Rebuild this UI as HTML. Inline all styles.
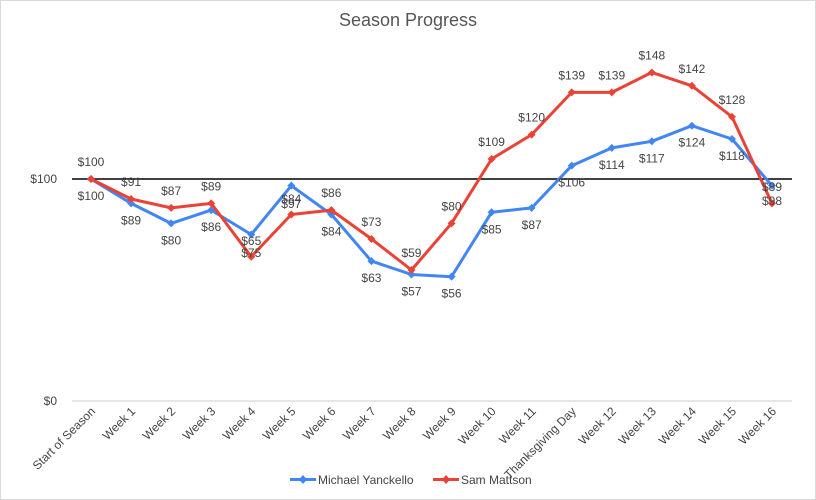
<!DOCTYPE html>
<html><head><meta charset="utf-8"><style>
body{margin:0;background:#fff}
svg{display:block;font-family:"Liberation Sans",Arial,sans-serif}
</style></head><body>
<svg width="816" height="500" viewBox="0 0 816 500">
<rect x="0.5" y="0.5" width="815" height="499" fill="#fff" stroke="#d9d9d9"/>
<text x="408" y="26" text-anchor="middle" font-size="18" fill="#555">Season Progress</text>
<line x1="72" y1="401" x2="792" y2="401" stroke="#ccc"/>
<line x1="72" y1="179" x2="792" y2="179" stroke="#000" stroke-width="1.5"/>
<text x="57" y="183" text-anchor="end" font-size="12" fill="#444">$100</text>
<text x="57" y="405" text-anchor="end" font-size="12" fill="#444">$0</text>
<g id="g"></g>
<g font-size="12" fill="#444">
<rect x="290" y="478" width="26" height="3" fill="#4285f4"/><path d="M303 475l4 4.5-4 4.5-4-4.5z" fill="#4285f4"/>
<text x="318" y="484">Michael Yanckello</text>
<rect x="433" y="478" width="26" height="3" fill="#ea4335"/><path d="M446 475l4 4.5-4 4.5-4-4.5z" fill="#ea4335"/>
<text x="461" y="484">Sam Mattson</text>
</g>
</svg>
<script>
const B=[100,89,80,86,75,97,84,63,57,56,85,87,106,114,117,124,118,97];
const R=[100,91,87,89,65,84,86,73,59,80,109,120,139,139,148,142,128,89];
const C=["Start of Season","Week 1","Week 2","Week 3","Week 4","Week 5","Week 6","Week 7","Week 8","Week 9","Week 10","Week 11","Thanksgiving Day","Week 12","Week 13","Week 14","Week 15","Week 16"];
const X=i=>91+40.06*i, Y=v=>401-2.22*v;
let s="";
function ser(d,c){let p=d.map((v,i)=>X(i).toFixed(1)+","+Y(v).toFixed(1)).join(" ");
s+=`<polyline points="${p}" fill="none" stroke="${c}" stroke-width="3" stroke-linejoin="round"/>`;
d.forEach((v,i)=>{let x=X(i),y=Y(v);s+=`<path d="M${x} ${y-4}l4 4-4 4-4-4z" fill="${c}"/>`;});}
ser(B,"#4285f4");ser(R,"#ea4335");
function lab(x,y,t){s+=`<text x="${x}" y="${y+4}" text-anchor="middle" font-size="12" fill="#444">${t}</text>`;}
const ov={4:[["$65",241],["$75",253]],5:[["$84",199],["$97",204]],17:[["$89",187],["$98",201]]};
for(let i=0;i<18;i++){
 if(ov[i]){ov[i].forEach(a=>lab(X(i),a[1],a[0]));continue;}
 lab(X(i),Y(R[i])-17,"$"+R[i]);
 lab(X(i),Y(B[i])+17,"$"+B[i]);
}
C.forEach((c,i)=>{let x=X(i)+5,y=412;s+=`<text transform="translate(${x},${y}) rotate(-45)" text-anchor="end" font-size="12" fill="#444">${c}</text>`;});
document.getElementById("g").innerHTML=s;
</script>
</body></html>
